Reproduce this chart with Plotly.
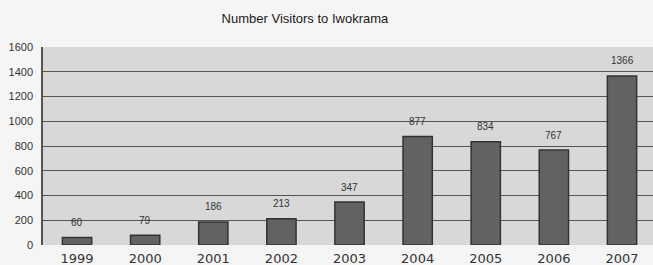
import plotly.graph_objects as go

years = ["1999", "2000", "2001", "2002", "2003", "2004", "2005", "2006", "2007"]
visitors = [60, 79, 186, 213, 347, 877, 834, 767, 1366]
y_ticks = [0, 200, 400, 600, 800, 1000, 1200, 1400, 1600]

fig = go.Figure(
    go.Bar(
        x=years,
        y=visitors,
        marker=dict(color="#626262", line=dict(color="#333333", width=1.5)),
        hoverinfo="x+y",
    )
)

for i, v in enumerate(visitors):
    fig.add_annotation(
        x=i,
        y=v,
        xref="x",
        yref="y",
        text=str(v),
        showarrow=False,
        yshift=15,
        font=dict(family="Liberation Sans, Arial, sans-serif", size=10, color="#333333"),
    )

fig.update_layout(
    width=653,
    height=265,
    margin=dict(l=43, r=0, t=47, b=20),
    paper_bgcolor="#f5f5f5",
    plot_bgcolor="#d8d8d8",
    bargap=0.57,
    showlegend=False,
    title=dict(
        text="Number Visitors to Iwokrama",
        x=0.467,
        xanchor="center",
        y=0.93,
        yanchor="middle",
        font=dict(family="Liberation Sans, Arial, sans-serif", size=13, color="#1a1a1a"),
    ),
)

fig.update_xaxes(
    type="category",
    range=[-0.5, 8.455],
    showgrid=False,
    showline=False,
    ticks="",
    ticklabelstandoff=4,
    tickfont=dict(family="DejaVu Sans, sans-serif", size=13, color="#333333"),
)

fig.update_yaxes(
    range=[0, 1600],
    tickvals=y_ticks,
    showgrid=True,
    gridcolor="#555555",
    gridwidth=1,
    zeroline=False,
    showline=True,
    linecolor="#555555",
    linewidth=1.5,
    ticks="",
    ticklen=0,
    ticklabelstandoff=6,
    tickfont=dict(family="Liberation Sans, Arial, sans-serif", size=11, color="#333333"),
)

fig.write_html(
    "out.html",
    config={"displayModeBar": False},
    post_script="document.body.style.margin='0';document.body.style.padding='0';document.body.style.overflow='hidden';",
)
